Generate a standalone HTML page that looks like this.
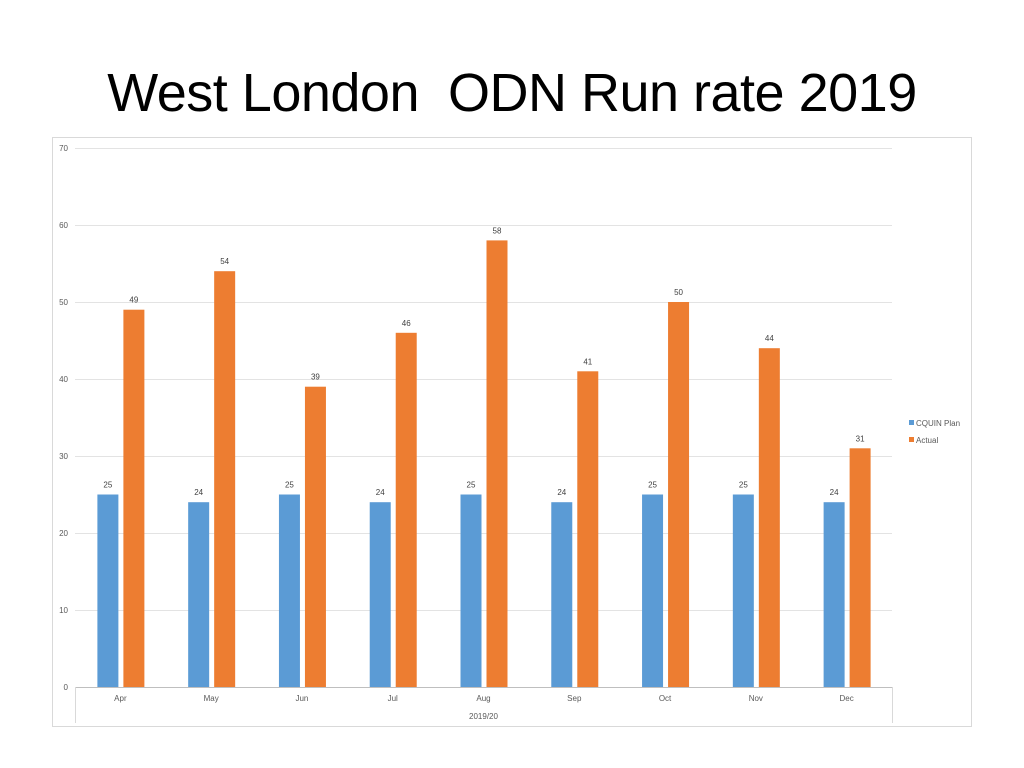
<!DOCTYPE html>
<html><head><meta charset="utf-8"><style>
body{margin:0;width:1024px;height:768px;background:#fff;overflow:hidden;font-family:"Liberation Sans",sans-serif}
h1{position:absolute;left:0;width:1024px;top:62px;margin:0;text-align:center;font-weight:normal;font-size:54px;color:#000;letter-spacing:-0.5px}
</style></head><body>
<h1>West London&nbsp; ODN Run rate 2019</h1>
<svg id="c" width="1024" height="768" style="position:absolute;left:0;top:0"></svg>
<script>
const categories=["Apr","May","Jun","Jul","Aug","Sep","Oct","Nov","Dec"];
const planValues=[25,24,25,24,25,24,25,25,24];
const actualValues=[49,54,39,46,58,41,50,44,31];
const yTicks=[0,10,20,30,40,50,60,70];
const seriesNames=["CQUIN Plan","Actual"];
const NS="http://www.w3.org/2000/svg";
const svg=document.getElementById('c');
function mk(t,a,txt){const e=document.createElementNS(NS,t);for(const k in a)e.setAttribute(k,a[k]);if(txt!==undefined)e.textContent=txt;svg.appendChild(e);return e;}
const x0=75,x1=892,y0=687,yTop=148,yMax=70;
const y=v=>y0-(v/yMax)*(y0-yTop);
const bw=(x1-x0)/categories.length;
const xc=i=>x0+bw*(i+0.5);
let f=mk('rect',{x:52.5,y:137.5,width:919,height:589,fill:'#fff',stroke:'#d9d9d9'});


yTicks.forEach(t=>{
 const g=mk('line',{x1:x0,x2:x1,y1:y(t)+0.5,y2:y(t)+0.5,stroke:t===0?'#bfbfbf':'#e3e3e3'});
 
 
 const l=mk('text',{x:68,y:y(t)+3,'text-anchor':'end','font-size':8,fill:'#595959'},t);
 
 
});
for(let i=0;i<=categories.length;i+=(i===0?categories.length:categories.length)){
 const tl=mk('line',{x1:x0+bw*i+0.5,x2:x0+bw*i+0.5,y1:y0,y2:723,stroke:'#d9d9d9'});
 
 
}
categories.forEach((c,i)=>{
 const cx=xc(i);
 const b1=mk('rect',{x:cx-23,y:y(planValues[i]),width:21,height:y0-y(planValues[i]),fill:'#5b9bd5'});
 
 
 const b2=mk('rect',{x:cx+3,y:y(actualValues[i]),width:21,height:y0-y(actualValues[i]),fill:'#ed7d31'});
 
 
 const l1=mk('text',{x:cx-12.5,y:y(planValues[i])-7,'text-anchor':'middle','font-size':8,fill:'#404040'},planValues[i]);
 
 
 const l2=mk('text',{x:cx+13.5,y:y(actualValues[i])-7,'text-anchor':'middle','font-size':8,fill:'#404040'},actualValues[i]);
 
 
 const cl=mk('text',{x:cx,y:701,'text-anchor':'middle','font-size':8,fill:'#595959'},c);
 
 
});
const xt=mk('text',{x:(x0+x1)/2,y:719,'text-anchor':'middle','font-size':8,fill:'#595959'},'2019/20');


const cols=['#5b9bd5','#ed7d31'];
seriesNames.forEach((s,i)=>{
 const r=mk('rect',{x:909,y:420+i*17,width:5,height:5,fill:cols[i]});
 
 
 const t=mk('text',{x:916,y:426+i*17,'font-size':8,fill:'#595959'},s);
 
 
});
</script>
</body></html>
